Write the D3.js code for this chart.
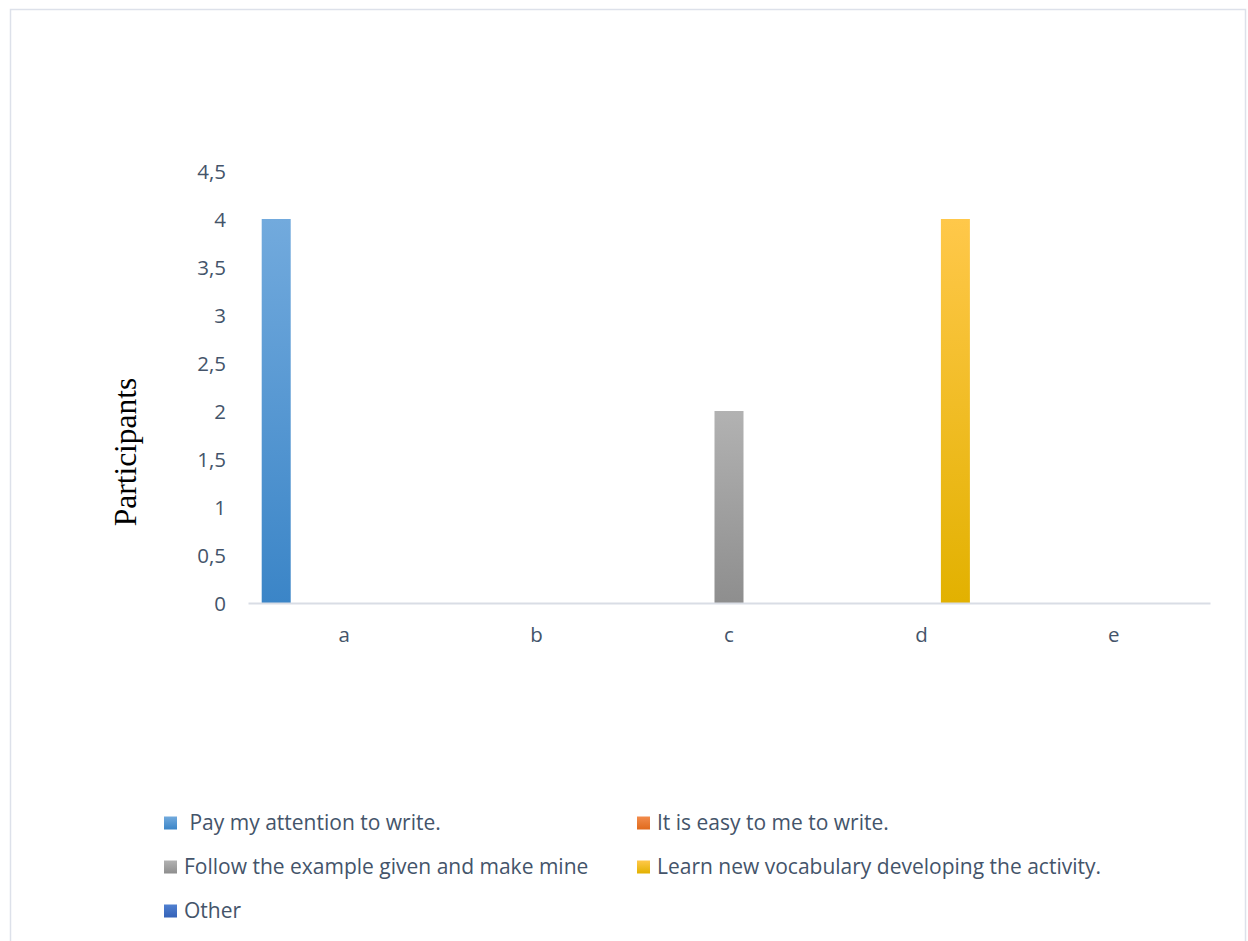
<!DOCTYPE html>
<html>
<head>
<meta charset="utf-8">
<script src="https://cdn.jsdelivr.net/npm/d3@7"></script>
<style>
  html, body { margin: 0; padding: 0; background: #fff; }
  svg { display: block; }
</style>
</head>
<body>
<svg id="chart" width="1248" height="941"></svg>
<script>
// Categories along the x axis
const categories = ["a", "b", "c", "d", "e"];
// Answer options (series)
const seriesNames = [
  " Pay my attention to write.",
  "It is easy to me to write.",
  "Follow the example given and make mine",
  "Learn new vocabulary developing the activity.",
  "Other"
];
// Participants per category, one array per series
const payAttention   = [4, 0, 0, 0, 0];
const easyToWrite    = [0, 0, 0, 0, 0];
const followExample  = [0, 0, 2, 0, 0];
const learnVocab     = [0, 0, 0, 4, 0];
const other          = [0, 0, 0, 0, 0];
const seriesValues = [payAttention, easyToWrite, followExample, learnVocab, other];
// Y axis ticks
const yTicks = [0, 0.5, 1, 1.5, 2, 2.5, 3, 3.5, 4, 4.5];

// Gradient colour stops for each series: [top, bottom]
const seriesColors = [
  ["#72aadd", "#3b85c7"],
  ["#f28c4c", "#e06a1c"],
  ["#b2b2b2", "#8e8e8e"],
  ["#ffc84a", "#e2b100"],
  ["#5080d0", "#3462b8"]
];

const svg = d3.select("#chart");
const textColor = "#44546a";
const font = "'Open Sans', Lato, sans-serif";

// outer frame
svg.append("rect")
  .attr("x", 10.5).attr("y", 9.5)
  .attr("width", 1235).attr("height", 940)
  .attr("fill", "#fff").attr("stroke", "#dde1ea").attr("stroke-width", 1.5);

const defs = svg.append("defs");
seriesColors.forEach((c, i) => {
  const g = defs.append("linearGradient")
    .attr("id", "grad" + i)
    .attr("x1", 0).attr("y1", 0).attr("x2", 0).attr("y2", 1);
  g.append("stop").attr("offset", "0%").attr("stop-color", c[0]);
  g.append("stop").attr("offset", "100%").attr("stop-color", c[1]);
});

const plot = { left: 248, right: 1210, top: 171, bottom: 603 };

const x0 = d3.scaleBand().domain(categories).range([plot.left, plot.right]).padding(0);
const x1 = d3.scaleBand().domain(d3.range(seriesNames.length))
  .range([0, x0.bandwidth()]).paddingInner(0.147).paddingOuter(0.403);
const y = d3.scaleLinear().domain([0, 4.5]).range([plot.bottom, plot.top]);

// y axis labels
const fmt = v => String(v).replace(".", ",");
const yAxis = d3.axisLeft(y).tickValues(yTicks).tickFormat(fmt).tickSize(0).tickPadding(0);
const yG = svg.append("g").attr("transform", `translate(${226},0)`).call(yAxis);
yG.select(".domain").remove();
yG.selectAll("text")
  .attr("fill", textColor).attr("font-family", font).attr("font-size", 20.5)
  .attr("dy", "0.35em");

// bars
categories.forEach((cat, ci) => {
  seriesValues.forEach((vals, si) => {
    const v = vals[ci];
    if (v <= 0) return;
    svg.append("rect")
      .attr("x", x0(cat) + x1(si))
      .attr("y", y(v))
      .attr("width", x1.bandwidth())
      .attr("height", y(0) - y(v))
      .attr("fill", `url(#grad${si})`);
  });
});

// x axis
const xAxis = d3.axisBottom(x0).tickSize(0).tickPadding(0);
const xG = svg.append("g").attr("transform", `translate(0,${plot.bottom})`).call(xAxis);
xG.select(".domain").attr("stroke", "#d9dde5").attr("stroke-width", 2);
xG.selectAll("text")
  .attr("fill", textColor).attr("font-family", font).attr("font-size", 20.5)
  .attr("y", 32).attr("dy", "0.35em");

// y axis title
svg.append("text")
  .attr("transform", `translate(136,452) rotate(-90)`)
  .attr("text-anchor", "middle")
  .attr("font-family", "'Liberation Serif', 'Times New Roman', serif")
  .attr("font-size", 31.5)
  .attr("fill", "#000")
  .text("Participants");

// legend
const legendPos = [
  [164, 823], [637, 823],
  [164, 867], [637, 867],
  [164, 911]
];
seriesNames.forEach((name, i) => {
  const [lx, ly] = legendPos[i];
  svg.append("rect")
    .attr("x", lx).attr("y", ly - 6.5)
    .attr("width", 13).attr("height", 13)
    .attr("fill", `url(#grad${i})`);
  svg.append("text")
    .attr("x", lx + 20).attr("y", ly)
    .attr("dy", "0.35em")
    .attr("xml:space", "preserve")
    .style("white-space", "pre")
    .attr("fill", textColor).attr("font-family", font).attr("font-size", 21)
    .text(name);
});
</script>
</body>
</html>
